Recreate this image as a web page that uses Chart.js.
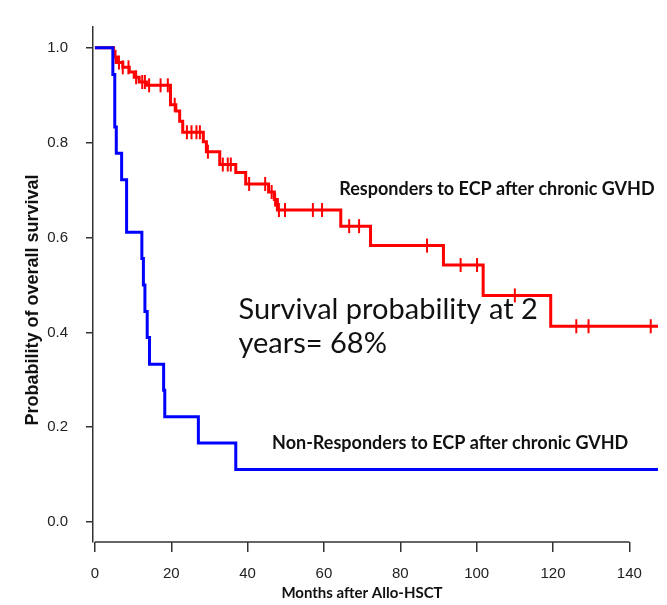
<!DOCTYPE html>
<html>
<head>
<meta charset="utf-8">
<script src="https://cdn.jsdelivr.net/npm/chart.js@4.4.0/dist/chart.umd.min.js"></script>
<style>
  html, body { margin: 0; padding: 0; background: #fff; }
  #wrap { width: 667px; height: 605px; }
</style>
</head>
<body>
<div id="wrap"><canvas id="SurvivalChart"></canvas></div>
<script>
  // tick labels
  const monthTicks = [0, 20, 40, 60, 80, 100, 120, 140];
  const survTicks = [0, 0.2, 0.4, 0.6, 0.8, 1.0];

  // Responders: months of each drop and survival after it
  const respTimes = [0, 4.9, 5.8, 7.3, 9.0, 10.3, 11.6, 13.5, 19.8, 21.2, 22.2, 23.0, 28.4, 29.2,
    32.7, 36.9, 39.5, 45.5, 47.0, 47.8, 64.4, 72.2, 91.3, 101.7, 119.4, 147.5];
  const respSurv = [1.0, 0.981, 0.969, 0.959, 0.949, 0.938, 0.928, 0.921, 0.880, 0.867, 0.845, 0.822, 0.802, 0.781,
    0.754, 0.737, 0.713, 0.696, 0.680, 0.658, 0.624, 0.583, 0.542, 0.478, 0.413, 0.413];
  // Responders censored (months)
  const respCensor = [5.4, 6.3, 7.3, 8.8, 10.8, 12.4, 13.1, 14.2, 17.2, 19.1, 20.9, 24.1, 25.3, 26.6, 27.5,
    29.6, 33.5, 34.8, 35.6, 40.4, 44.6, 46.3, 47.2, 48.2, 49.8, 57.1, 59.5, 66.6, 69.2, 87.0, 95.8,
    100.1, 110.0, 126.1, 129.3, 145.6];

  // Non-responders
  const nonTimes = [0, 4.7, 5.2, 5.6, 7.0, 8.3, 12.3, 12.7, 13.1, 13.7, 14.3, 18.0, 18.3, 27.1, 36.9, 147.5];
  const nonSurv = [1.0, 0.944, 0.833, 0.778, 0.722, 0.611, 0.556, 0.5, 0.444, 0.389, 0.333, 0.278, 0.222,
    0.167, 0.111, 0.111];

  // survival of the step curve at a given month (for the censor marks)
  function survAt(times, surv, t) {
    let s = surv[0];
    for (let i = 0; i < times.length; i++) {
      if (times[i] <= t) s = surv[i];
    }
    return s;
  }

  const toPoints = (times, surv) => times.map((t, i) => ({ x: t, y: surv[i] }));

  //Data
  const SurvivalData = {
    datasets: [
      {
        label: 'Non-Responders',
        data: toPoints(nonTimes, nonSurv),
        borderColor: '#0000ff',
        borderWidth: 3,
        stepped: 'before',
        pointRadius: 0,
        fill: false
      },
      {
        label: 'Responders',
        data: toPoints(respTimes, respSurv),
        borderColor: '#ff0000',
        borderWidth: 3,
        stepped: 'before',
        pointRadius: 0,
        fill: false
      },
      {
        label: 'Censored',
        type: 'scatter',
        data: respCensor.map(t => ({ x: t, y: survAt(respTimes, respSurv, t) })),
        pointStyle: 'line',
        rotation: 90,
        radius: 7,
        borderColor: '#ff0000',
        borderWidth: 2,
        showLine: false
      }
    ]
  };

  // x axis line only between first and last tick, axis titles and the text notes
  const notesPlugin = {
    id: 'notes',
    afterDraw(chart) {
      const { ctx, chartArea } = chart;
      const xs = chart.scales.x;
      const ys = chart.scales.y;
      ctx.save();
      ctx.strokeStyle = '#333';
      ctx.lineWidth = 1.5;
      ctx.beginPath();
      ctx.moveTo(xs.getPixelForValue(monthTicks[0]), chartArea.bottom);
      ctx.lineTo(xs.getPixelForValue(monthTicks[monthTicks.length - 1]), chartArea.bottom);
      ctx.stroke();

      ctx.fillStyle = '#111';
      ctx.textBaseline = 'middle';
      ctx.textAlign = 'center';
      ctx.font = 'bold 15px Lato';
      ctx.fillText('Months after Allo-HSCT', 362, 593);
      ctx.save();
      ctx.translate(33, 300);
      ctx.rotate(-Math.PI / 2);
      ctx.font = 'bold 18px "Liberation Sans"';
      ctx.fillText('Probability of overall survival', 0, 0);
      ctx.restore();

      ctx.textAlign = 'left';
      ctx.font = 'bold 18px Lato';
      ctx.fillText('Responders to ECP after chronic GVHD', xs.getPixelForValue(64), ys.getPixelForValue(0.703));
      ctx.fillText('Non-Responders to ECP after chronic GVHD', xs.getPixelForValue(46.4), ys.getPixelForValue(0.166));
      ctx.font = '29px Lato';
      ctx.fillText('Survival probability at 2', xs.getPixelForValue(37.6), ys.getPixelForValue(0.449));
      ctx.fillText('years= 68%', xs.getPixelForValue(37.6), ys.getPixelForValue(0.376));
      ctx.restore();
    }
  };

  //config
  const SurvivalConfig = {
    type: 'line',
    data: SurvivalData,
    options: {
      responsive: true,
      maintainAspectRatio: false,
      animation: false,
      layout: { padding: { top: 12, right: 0, left: 0, bottom: 0 } },
      plugins: { legend: { display: false }, tooltip: { enabled: false } },
      scales: {
        x: {
          type: 'linear',
          min: -0.5,
          max: 147.5,
          afterBuildTicks: axis => { axis.ticks = monthTicks.map(v => ({ value: v })); },
          afterFit: axis => { axis.height = 63; },
          border: { display: false },
          grid: { drawOnChartArea: false, drawTicks: true, tickLength: 10, color: '#333', lineWidth: 1.5 },
          ticks: { color: '#222', font: { family: 'Liberation Sans', size: 15 }, padding: 13, maxRotation: 0, autoSkip: false }
        },
        y: {
          min: -0.042,
          max: 1.044,
          afterBuildTicks: axis => { axis.ticks = survTicks.map(v => ({ value: v })); },
          afterFit: axis => { axis.width = 93; },
          border: { display: true, color: '#333', width: 1.5 },
          grid: { drawOnChartArea: false, drawTicks: true, tickLength: 7, color: '#333', lineWidth: 1.5 },
          ticks: {
            color: '#222',
            font: { family: 'Liberation Sans', size: 15 },
            padding: 18,
            callback: v => v.toFixed(1)
          }
        }
      }
    },
    plugins: [notesPlugin]
  };

  //View
  const SurvivalChart = new Chart(
    document.getElementById('SurvivalChart'),
    SurvivalConfig
  );
</script>
</body>
</html>
